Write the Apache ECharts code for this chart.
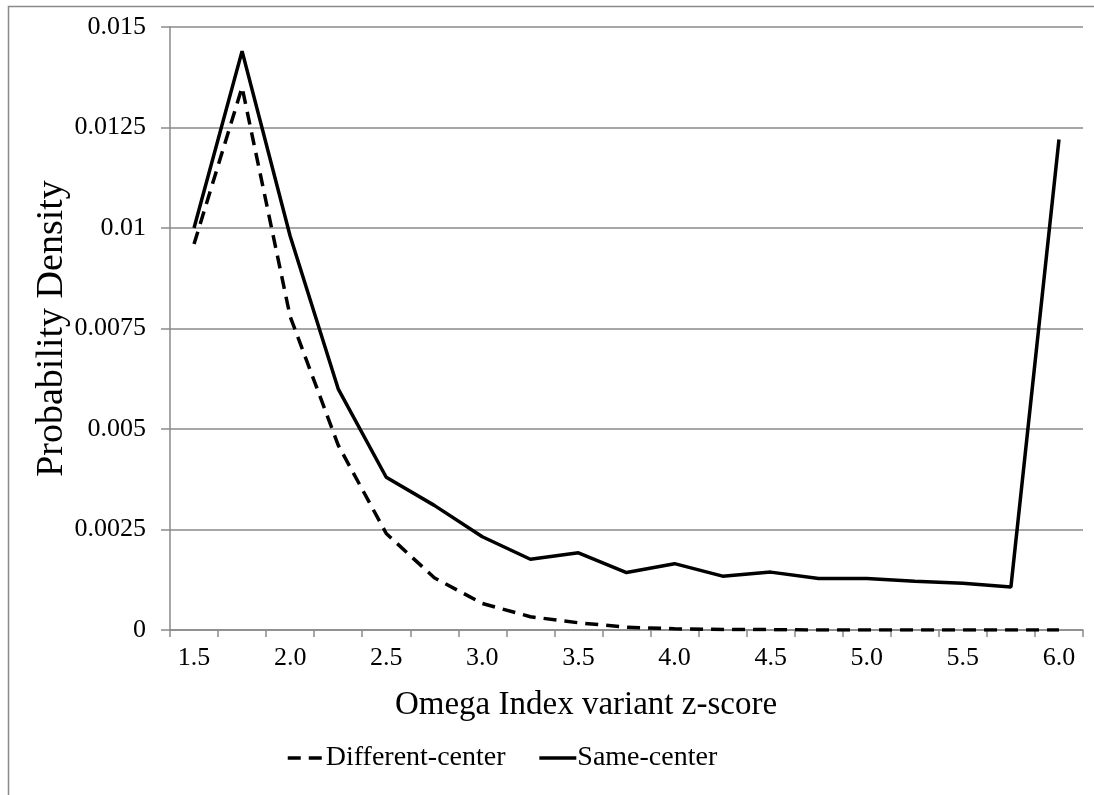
<!DOCTYPE html>
<html>
<head>
<meta charset="utf-8">
<script src="https://cdn.jsdelivr.net/npm/echarts@6/dist/echarts.min.js"></script>
<style>
  html, body { margin: 0; padding: 0; background: #fff; }
  #chart { width: 1094px; height: 795px; }
</style>
</head>
<body>
<div id="chart"></div>
<script>
// z-score categories
const categories = ["1.5","1.75","2.0","2.25","2.5","2.75","3.0","3.25","3.5","3.75",
                    "4.0","4.25","4.5","4.75","5.0","5.25","5.5","5.75","6.0"];
// Different-center (dashed)
const differentCenter = [0.0096, 0.0135, 0.0078, 0.0046, 0.0024, 0.0013, 0.00066, 0.00033, 0.00018, 0.00007,
                         0.00003, 0.000015, 0.00001, 0, 0, 0, 0, 0, 0];
// Same-center (solid)
const sameCenter = [0.0100, 0.0144, 0.0098, 0.0060, 0.0038, 0.0031, 0.00232, 0.00176, 0.00192, 0.00143,
                    0.00165, 0.00134, 0.00144, 0.00128, 0.00128, 0.00121, 0.00116, 0.00107, 0.0122];
const yTickLabels = ["0", "0.0025", "0.005", "0.0075", "0.01", "0.0125", "0.015"];

const FONT = "Liberation Serif";
const chart = echarts.init(document.getElementById('chart'), null, { renderer: 'canvas' });
chart.setOption({
  backgroundColor: '#fff',
  animation: false,
  textStyle: { fontFamily: FONT, color: '#000' },
  graphic: [{
    type: 'rect', silent: true, z: -10,
    shape: { x: 8.5, y: 6.5, width: 1200, height: 900 },
    style: { fill: 'none', stroke: '#8a8a8a', lineWidth: 1.5 }
  }],
  title: {
    text: 'Omega Index variant z-score',
    left: 581, top: 684, textAlign: 'center',
    textStyle: { fontFamily: FONT, fontSize: 33, fontWeight: 'normal', color: '#000' }
  },
  grid: { left: 170, right: 11, top: 27, bottom: 165, containLabel: false },
  legend: {
    data: ['Different-center', 'Same-center'],
    left: 281, top: 739,
    itemWidth: 37, itemHeight: 14, itemGap: 32,
    itemStyle: { color: 'transparent', borderWidth: 0, opacity: 0 },
    lineStyle: { width: 3.5, color: '#000' },
    textStyle: { fontFamily: FONT, fontSize: 28, color: '#000', padding: [0, 0, 0, -4] }
  },
  xAxis: {
    type: 'category',
    data: categories,
    boundaryGap: true,
    axisLine: { lineStyle: { color: '#8a8a8a', width: 1.5 } },
    axisTick: { show: true, interval: 0, length: 7, lineStyle: { color: '#8a8a8a', width: 1.5 } },
    axisLabel: { interval: 1, margin: 15, fontFamily: FONT, fontSize: 26, color: '#000' },
    splitLine: { show: false }
  },
  yAxis: {
    type: 'value',
    min: 0, max: 0.015, interval: 0.0025,
    name: 'Probability Density',
    nameLocation: 'middle', nameGap: 99, nameMoveOverlap: false,
    nameTextStyle: { fontFamily: FONT, fontSize: 38, color: '#000' },
    axisLine: { show: true, lineStyle: { color: '#8a8a8a', width: 1.5 } },
    axisTick: { show: true, length: 9, lineStyle: { color: '#8a8a8a', width: 1.5 } },
    axisLabel: {
      margin: 24, fontFamily: FONT, fontSize: 26, color: '#000',
      formatter: (v) => yTickLabels[Math.round(v / 0.0025)]
    },
    splitLine: { show: true, lineStyle: { color: '#8a8a8a', width: 1.5 } }
  },
  series: [
    {
      name: 'Different-center', type: 'line', data: differentCenter,
      symbol: 'none', showSymbol: false, smooth: false,
      lineStyle: { color: '#000', width: 3.5, type: [13, 8] },
      itemStyle: { color: '#000' }
    },
    {
      name: 'Same-center', type: 'line', data: sameCenter,
      symbol: 'none', showSymbol: false, smooth: false,
      lineStyle: { color: '#000', width: 3.5, type: 'solid' },
      itemStyle: { color: '#000' }
    }
  ]
});
</script>
</body>
</html>
